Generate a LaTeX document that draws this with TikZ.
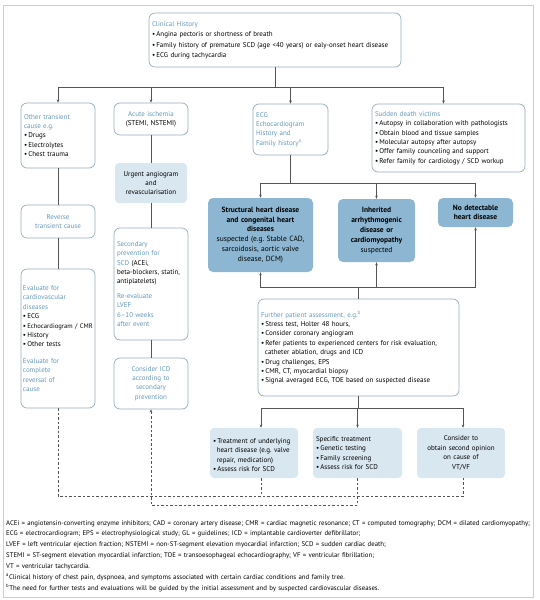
\documentclass[tikz,border=0pt]{standalone}
\usepackage{fontspec}
\setmainfont{PT Sans}
\usetikzlibrary{arrows.meta,calc}
\definecolor{tblue}{RGB}{100,152,186}
\definecolor{bcol}{RGB}{150,172,186}
\definecolor{lfill}{RGB}{217,231,241}
\definecolor{dfill}{RGB}{140,182,210}
\definecolor{lcol}{RGB}{85,85,85}
\definecolor{fcol}{RGB}{200,206,212}
\newcommand\bitem{\par\hangindent=0.55em\hangafter=1\noindent\textbullet\,}
\newcommand\ttl[1]{\textcolor{tblue}{#1}}
\hyphenpenalty=10000
\exhyphenpenalty=10000
\begin{document}
\begin{tikzpicture}[x=1pt,y=-1pt,
 box/.style={draw=bcol, line width=0.7pt, rounded corners=6pt, inner sep=3pt, font=\fontsize{7}{9.4}\selectfont},
 lbox/.style={fill=lfill, rounded corners=4pt, inner sep=3pt, font=\fontsize{7}{9.4}\selectfont},
 dbox/.style={fill=dfill, rounded corners=5pt, inner sep=3pt, font=\fontsize{7.5}{9.8}\selectfont\bfseries},
 con/.style={draw=lcol, line width=0.5pt},
 arr/.style={con, -{Stealth[length=3.2pt,width=2.6pt]}},
 dsh/.style={con, dash pattern=on 2.5pt off 2pt}
]
\useasboundingbox (0,0) rectangle (540,600);
\draw[fcol, line width=0.6pt] (3,5) rectangle (533,597);

% top
\node[box, text width=246pt, minimum height=54pt, align=left, font=\fontsize{7}{10.5}\selectfont] (ch) at (275,40)
 {\ttl{Clinical History}\bitem Angina pectoris or shortness of breath\bitem Family history of premature SCD (age <40 years) or ealy-onset heart disease\bitem ECG during tachycardia};

% left column
\node[box, text width=68pt, minimum height=65pt, align=left] (oth) at (58,135.5)
 {\ttl{Other transient\newline cause e.g.}\bitem Drugs\bitem Electrolytes\bitem Chest trauma};
\node[box, text width=68pt, minimum height=33pt, align=center, text=tblue] (rev) at (58,221.5)
 {Reverse\\transient cause};
\node[box, inner sep=2pt, text width=70pt, minimum height=139pt, align=left] (eva) at (58,338.5)
 {\ttl{Evaluate for\newline cardiovascular\newline diseases}\bitem ECG\bitem {\fontsize{6.6}{9.4}\selectfont Echocardiogram / CMR}\bitem History\bitem Other tests\par\vspace{7pt}\noindent\ttl{Evaluate for\newline complete\newline reversal of\newline cause}};

% second column
\node[box, text width=68pt, minimum height=32pt, align=center] (acu) at (151,119)
 {\ttl{Acute ischemia}\\(STEMI, NSTEMI)};
\node[lbox, text width=66pt, minimum height=40pt, align=center] (urg) at (151,183)
 {Urgent angiogram\\and\\revascularisation};
\node[box, text width=68pt, minimum height=112pt, align=left] (sec) at (151,284)
 {\ttl{Secondary\newline prevention for\newline SCD} (ACEi,\newline beta-blockers, statin,\newline antiplatelets)\par\vspace{5pt}\noindent\ttl{Re-evaluate\newline LVEF\newline 6--10 weeks\newline after event}};
\node[box, text width=68pt, minimum height=51pt, align=center, text=tblue] (icd) at (151,383.5)
 {Consider ICD\\according to\\secondary\\prevention};

% third/fourth column
\node[box, text width=69pt, minimum height=51pt, align=left, text=tblue] (ecg) at (290.5,129.5)
 {ECG\\Echocardiogram\\History and\\Family history\textsuperscript{a}};
\node[box, text width=147pt, minimum height=68pt, align=left] (sdv) at (448.5,138)
 {\ttl{Sudden death victims}\bitem Autopsy in collaboration with pathologists\bitem Obtain blood and tissue samples\bitem Molecular autopsy after autopsy\bitem Offer family counceling and support\bitem Refer family for cardiology / SCD workup};

\node[dbox, text width=99pt, minimum height=74pt, align=center] (str) at (260.5,235)
 {Structural heart disease\\and congenital heart\\diseases\\{\mdseries suspected (e.g.\ Stable CAD,\\sarcoidosis, aortic valve\\disease, DCM)}};
\node[dbox, text width=71pt, minimum height=63pt, align=center] (inh) at (376.5,230.5)
 {Inherited\\arrhythmogenic\\disease or\\cardiomyopathy\\{\mdseries suspected}};
\node[dbox, text width=69pt, minimum height=29pt, align=center] (nod) at (475.5,212.5)
 {No detectable\\heart disease};

\node[box, text width=195pt, minimum height=97pt, align=left] (fur) at (358.5,347.5)
 {\ttl{Further patient assessment, e.g.\textsuperscript{b}}\bitem Stress test, Holter 48 hours,\bitem Consider coronary angiogram\bitem Refer patients to experienced centers for risk evaluation, catheter ablation, drugs and ICD\bitem Drug challenges, EPS\bitem CMR, CT, myocardial biopsy\bitem Signal averaged ECG, TOE based on suspected disease};

% bottom boxes
\node[lbox, text width=82pt, minimum height=50pt, align=left] (trt) at (254,453)
 {\bitem Treatment of underlying heart disease (e.g.\ valve repair, medication)\bitem Assess risk for SCD};
\node[lbox, text width=83pt, minimum height=50pt, align=left] (spc) at (357.5,453)
 {Specific treatment\bitem Genetic testing\bitem Family screening\bitem Assess risk for SCD};
\node[lbox, text width=82pt, minimum height=50pt, align=center] (cns) at (461,453)
 {Consider to\\obtain second opinion\\on cause of\\VT/VF};

% footnote
\node[anchor=north west, inner sep=0pt, text width=530pt, align=left, font=\fontsize{6.8}{10.9}\selectfont] (fn) at (6,520)
 {ACEi = angiotensin-converting enzyme inhibitors; CAD = coronary artery disease; CMR = cardiac magnetic resonance; CT = computed tomography; DCM = dilated cardiomyopathy;\newline
 ECG = electrocardiogram; EPS = electrophysiological study; GL = guidelines; ICD = implantable cardioverter defibrillator;\newline
 LVEF = left ventricular ejection fraction; NSTEMI = non-ST-segment elevation myocardial infarction; SCD = sudden cardiac death;\newline
 STEMI = ST-segment elevation myocardial infarction; TOE = transoesophageal echocardiography; VF = ventricular fibrillation;\newline
 VT = ventricular tachycardia.\newline
 \textsuperscript{a}Clinical history of chest pain, dyspnoea, and symptoms associated with certain cardiac conditions and family tree.\newline
 \textsuperscript{b}The need for further tests and evaluations will be guided by the initial assessment and by suspected cardiovascular diseases.};

% connectors
\coordinate (j1) at (275,87);
\draw[con] (ch.south) -- (j1);
\draw[arr] (j1) -| (oth.north);
\draw[arr] (j1) -| (acu.north);
\draw[arr] (j1) -| (ecg.north);
\draw[arr] (j1) -| ([xshift=-5pt]sdv.north);

\draw[con] (oth) -- (rev);
\draw[con] (rev) -- (eva);
\draw[con] (acu) -- (urg);
\draw[con] (urg) -- (sec);
\draw[con] (sec) -- (icd);

\coordinate (j2) at (290.5,183);
\draw[con] (ecg.south) -- (j2);
\draw[arr] (j2) -| (str.north);
\draw[arr] (j2) -| (inh.north);
\draw[arr] (j2) -| (nod.north);

\coordinate (j3) at (358.5,287);
\draw[con] (fur.north) -- (j3);
\draw[arr] (j3) -| (str.south);
\draw[arr] (j3) -| (inh.south);
\draw[arr] (j3) -| (nod.south);

\coordinate (j4) at (358.5,408);
\draw[con] (fur.south) -- (j4);
\draw[arr] (j4) -| ([xshift=7pt]trt.north);
\draw[arr] (j4) -| (spc.north);
\draw[arr] (j4) -| ([xshift=2pt]cns.north);

% dashed feedback
\coordinate (dR) at (463,496);
\coordinate (dL2) at (151,505);
\draw[dsh] (eva.south) |- (dR) -- ([xshift=2pt]cns.south);
\draw[dsh] ([xshift=7pt]trt.south) -- ([xshift=7pt]trt.south |- dR);
\draw[dsh, -{Stealth[length=3.2pt,width=2.6pt]}] (spc.south) |- (dL2) -- (icd.south);
\end{tikzpicture}
\end{document}
